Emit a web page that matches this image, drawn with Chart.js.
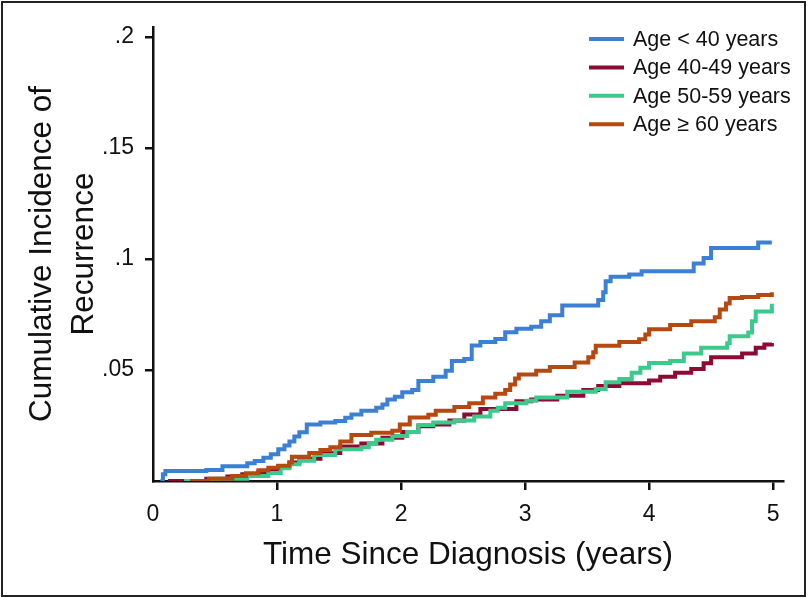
<!DOCTYPE html>
<html>
<head>
<meta charset="utf-8">
<script src="https://cdn.jsdelivr.net/npm/chart.js@4.4.1/dist/chart.umd.min.js"></script>
<style>
  html, body { margin: 0; padding: 0; background: #fff; }
  #wrap { width: 808px; height: 598px; }
</style>
</head>
<body>
<div id="wrap"><canvas id="ciChart" width="808" height="598"></canvas></div>
<script>
// series labels + colours
const seriesLabels = ["Age < 40 years", "Age 40-49 years", "Age 50-59 years", "Age \u2265 60 years"];
const seriesColors = ["#3c80d6", "#8c0b33", "#3cc98c", "#b5490f"];

// cumulative incidence (time in years)
const under40Time = [0.06, 0.08, 0.1, 0.43, 0.56, 0.76, 0.82, 0.89, 0.95, 1.01, 1.06, 1.1, 1.14, 1.18, 1.24, 1.35, 1.47, 1.55, 1.6, 1.68, 1.8, 1.85, 1.89, 1.95, 2.01, 2.09, 2.14, 2.26, 2.36, 2.41, 2.51, 2.57, 2.64, 2.76, 2.84, 2.93, 3.05, 3.13, 3.2, 3.3, 3.59, 3.63, 3.65, 3.69, 3.84, 3.94, 4.36, 4.44, 4.5, 4.88, 4.99];
const under40Cum = [0, 0.003, 0.0045, 0.005, 0.0066, 0.008, 0.009, 0.0105, 0.012, 0.0143, 0.016, 0.0178, 0.02, 0.022, 0.0255, 0.0264, 0.027, 0.0285, 0.030, 0.0316, 0.033, 0.0345, 0.0367, 0.038, 0.040, 0.041, 0.045, 0.047, 0.0497, 0.054, 0.055, 0.061, 0.0626, 0.064, 0.067, 0.0686, 0.0695, 0.072, 0.0747, 0.079, 0.0815, 0.085, 0.090, 0.092, 0.093, 0.0945, 0.098, 0.1005, 0.105, 0.1074, 0.1074];

const age40Time = [0.12, 0.43, 0.6, 0.72, 0.85, 0.93, 1.01, 1.1, 1.18, 1.35, 1.51, 1.68, 1.85, 2.01, 2.14, 2.26, 2.39, 2.51, 2.64, 2.93, 3.05, 3.26, 3.47, 3.59, 3.76, 4.0, 4.09, 4.21, 4.34, 4.44, 4.5, 4.75, 4.86, 4.93, 4.99];
const age40Cum = [0, 0.001, 0.002, 0.003, 0.004, 0.005, 0.0066, 0.0083, 0.01, 0.0126, 0.0155, 0.0169, 0.0195, 0.0221, 0.0247, 0.0255, 0.0272, 0.030, 0.0324, 0.0359, 0.0367, 0.0384, 0.041, 0.0428, 0.044, 0.0453, 0.047, 0.0488, 0.0505, 0.053, 0.0557, 0.0574, 0.06, 0.0615, 0.0622];

const age50Time = [0.25, 0.52, 0.76, 0.93, 1.03, 1.1, 1.18, 1.3, 1.47, 1.68, 1.74, 1.8, 1.93, 2.05, 2.14, 2.26, 2.43, 2.59, 2.72, 2.78, 2.84, 3.01, 3.09, 3.34, 3.57, 3.65, 3.76, 3.86, 3.93, 4.0, 4.17, 4.28, 4.42, 4.63, 4.65, 4.8, 4.83, 4.86, 4.99];
const age50Cum = [0, 0.001, 0.0022, 0.0036, 0.0057, 0.0075, 0.0091, 0.0117, 0.0143, 0.0152, 0.017, 0.0186, 0.0203, 0.0221, 0.0252, 0.0264, 0.0272, 0.029, 0.0316, 0.033, 0.035, 0.0362, 0.0376, 0.0402, 0.0414, 0.0445, 0.0459, 0.0488, 0.051, 0.0531, 0.054, 0.0574, 0.06, 0.062, 0.0652, 0.0669, 0.072, 0.0764, 0.0798];

const age60Time = [0.3, 0.45, 0.64, 0.75, 0.85, 0.93, 1.01, 1.1, 1.12, 1.26, 1.35, 1.43, 1.51, 1.6, 1.76, 1.93, 1.99, 2.07, 2.22, 2.28, 2.43, 2.55, 2.66, 2.76, 2.84, 2.88, 2.92, 2.95, 3.09, 3.2, 3.4, 3.51, 3.55, 3.57, 3.76, 3.92, 3.97, 4.0, 4.17, 4.34, 4.53, 4.57, 4.62, 4.65, 4.75, 4.88, 4.99];
const age60Cum = [0, 0.001, 0.0022, 0.0035, 0.0048, 0.006, 0.0069, 0.0083, 0.0109, 0.0126, 0.014, 0.0152, 0.0178, 0.0207, 0.0217, 0.0226, 0.0255, 0.0286, 0.0298, 0.0316, 0.0333, 0.035, 0.0376, 0.0393, 0.041, 0.0435, 0.0462, 0.048, 0.0497, 0.0514, 0.0534, 0.0557, 0.058, 0.0609, 0.0626, 0.0638, 0.066, 0.0683, 0.0703, 0.072, 0.0738, 0.0772, 0.08, 0.0824, 0.0829, 0.0838, 0.085];

// axis ticks
const xTickValues = [0, 1, 2, 3, 4, 5];
const xTickLabels = ["0", "1", "2", "3", "4", "5"];
const yTickValues = [0, 0.05, 0.1, 0.15, 0.2];
const yTickLabels = ["", ".05", ".1", ".15", ".2"];

const FONT = "'Liberation Sans', Arial, Helvetica, sans-serif";
const INK = "#111";

function toPoints(times, vals){
    return times.map((t, i) => ({x: t, y: vals[i]}));
}

const allTimes = [under40Time, age40Time, age50Time, age60Time];
const allCums = [under40Cum, age40Cum, age50Cum, age60Cum];
const drawOrder = [3, 2, 1, 0]; // lower = drawn on top

let dataSets = seriesLabels.map((label, i) => ({
    label: label,
    data: toPoints(allTimes[i], allCums[i]),
    borderColor: seriesColors[i],
    backgroundColor: seriesColors[i],
    borderWidth: 4,
    pointRadius: 0,
    stepped: true,
    fill: false,
    order: drawOrder[i]
}));

// frame round the whole picture
const framePlugin = {
    id: "frame",
    afterDraw(chart){
        let ctx = chart.ctx;
        ctx.save();
        ctx.strokeStyle = "#222";
        ctx.lineWidth = 2;
        ctx.strokeRect(2, 2, chart.width - 5, chart.height - 4);
        ctx.restore();
    }
};

// legend inside the plot, top right
const legendPlugin = {
    id: "insideLegend",
    afterDraw(chart){
        let ctx = chart.ctx;
        ctx.save();
        ctx.font = "21.5px " + FONT;
        ctx.textBaseline = "middle";
        ctx.textAlign = "left";
        chart.data.datasets.forEach((ds, i) => {
            let y = 39 + i * 28.4;
            ctx.strokeStyle = ds.borderColor;
            ctx.lineWidth = 4;
            ctx.beginPath();
            ctx.moveTo(589, y);
            ctx.lineTo(624, y);
            ctx.stroke();
            ctx.fillStyle = INK;
            ctx.fillText(ds.label, 633, y + 1);
        });
        ctx.restore();
    }
};

function tickColor(c){
    return c.tick && c.tick.value === 0 ? "rgba(0,0,0,0)" : INK;
}

let ctx = document.getElementById("ciChart").getContext("2d");
let chart = new Chart(ctx, {
    type: "line",
    data: { datasets: dataSets },
    plugins: [framePlugin, legendPlugin],
    options: {
        responsive: false,
        animation: false,
        layout: { padding: { left: 0, top: 27, right: 25, bottom: 0 } },
        plugins: {
            legend: { display: false },
            tooltip: { enabled: false },
            title: { display: false }
        },
        scales: {
            x: {
                type: "linear",
                min: 0,
                max: 5.08,
                afterBuildTicks: (scale) => { scale.ticks = xTickValues.map(v => ({value: v})); },
                afterFit: (scale) => { scale.height = 117; },
                ticks: {
                    autoSkip: false,
                    maxRotation: 0,
                    padding: 11,
                    color: INK,
                    font: { family: FONT, size: 23 },
                    callback: (v) => xTickLabels[xTickValues.indexOf(v)]
                },
                grid: {
                    drawOnChartArea: false,
                    drawTicks: true,
                    tickLength: 9,
                    lineWidth: 2.5,
                    color: tickColor
                },
                border: { display: true, color: INK, width: 2.5 },
                title: {
                    display: true,
                    text: "Time Since Diagnosis (years)",
                    color: INK,
                    font: { family: FONT, size: 31.5, lineHeight: 1.2 },
                    padding: { top: 0, bottom: 24 }
                }
            },
            y: {
                type: "linear",
                min: 0,
                max: 0.2045,
                afterBuildTicks: (scale) => { scale.ticks = yTickValues.map(v => ({value: v})); },
                afterFit: (scale) => { scale.width = 153; },
                ticks: {
                    autoSkip: false,
                    padding: 11,
                    color: INK,
                    font: { family: FONT, size: 23 },
                    callback: (v) => yTickLabels[yTickValues.indexOf(v)]
                },
                grid: {
                    drawOnChartArea: false,
                    drawTicks: true,
                    tickLength: 8,
                    lineWidth: 2.5,
                    color: tickColor
                },
                border: { display: true, color: INK, width: 2.5 },
                title: {
                    display: true,
                    text: ["Cumulative Incidence of", "Recurrence"],
                    color: INK,
                    font: { family: FONT, size: 31.5, lineHeight: 1.32 },
                    padding: { top: 22, bottom: 0 }
                }
            }
        }
    }
});
</script>
</body>
</html>
